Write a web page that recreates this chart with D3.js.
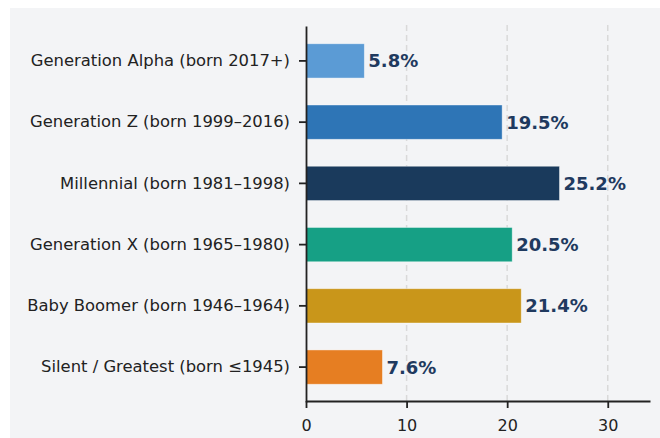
<!DOCTYPE html>
<html><head><meta charset="utf-8">
<script src="https://cdn.jsdelivr.net/npm/d3@7"></script>
<style>html,body{margin:0;padding:0;background:#fff;}svg{display:block;}</style>
</head><body>
<script>
const categories = ["Generation Alpha (born 2017+)","Generation Z (born 1999–2016)","Millennial (born 1981–1998)","Generation X (born 1965–1980)","Baby Boomer (born 1946–1964)","Silent / Greatest (born ≤1945)"];
const values = [5.8, 19.5, 25.2, 20.5, 21.4, 7.6];
const colors = ["#5b9bd5","#2e75b6","#1a3a5c","#16a085","#c9961a","#e67e22"];
const xTicks = [0, 10, 20, 30];

(function () {
const W = 660, H = 438;
const svg = d3.select("body").append("svg").attr("width", W).attr("height", H);
svg.append("rect").attr("x", 10).attr("y", 8).attr("width", W - 10).attr("height", H - 8).attr("fill", "#f3f4f6");

const pL = 306, pR = 650, pT = 25, pB = 401;
const x = d3.scaleLinear().domain([0, 34.2]).range([pL, pR]);
const y = d3.scaleBand().domain(categories).range([pT + 1, pB + 1]).paddingInner(0.44).paddingOuter(0.29);
const g = svg.append("g");

// grid
g.selectAll("line.grid").data(xTicks.filter(d => d > 0)).enter().append("line")
  .attr("x1", d => x(d)).attr("x2", d => x(d)).attr("y1", pT).attr("y2", pB)
  .attr("stroke", "#d9d9d9").attr("stroke-width", 1.5).attr("stroke-dasharray", "6,4");

// bars
g.selectAll("rect.bar").data(values).enter().append("rect")
  .attr("x", x(0)).attr("y", (d, i) => y(categories[i]))
  .attr("width", d => x(d) - x(0)).attr("height", y.bandwidth())
  .attr("fill", (d, i) => colors[i]).attr("stroke", "#fff").attr("stroke-opacity", 0.5).attr("stroke-width", 0.8);

// value labels
g.selectAll("text.val").data(values).enter().append("text")
  .attr("x", d => x(d) + 4).attr("y", (d, i) => y(categories[i]) + y.bandwidth() / 2)
  .attr("dy", "0.36em").attr("font-family", "DejaVu Sans").attr("font-weight", "bold")
  .attr("font-size", 18).attr("fill", "#1f3a5f").text(d => d.toFixed(1) + "%");

// axes
const xAxis = d3.axisBottom(x).tickValues(xTicks).tickSize(7).tickPadding(12).tickSizeOuter(0);
const gx = svg.append("g").attr("transform", `translate(0,${pB})`).call(xAxis);
gx.select(".domain").attr("stroke", "#222").attr("stroke-width", 1.8);
gx.selectAll(".tick line").attr("stroke", "#222").attr("stroke-width", 1.8);
gx.selectAll("text").attr("font-family", "DejaVu Sans").attr("font-size", 16).attr("fill", "#222");

const yAxis = d3.axisLeft(y).tickSize(7).tickPadding(9).tickSizeOuter(0);
const gy = svg.append("g").attr("transform", `translate(${pL},0)`).call(yAxis);
gy.select(".domain").attr("stroke", "#222").attr("stroke-width", 1.8);
gy.selectAll(".tick line").attr("stroke", "#222").attr("stroke-width", 1.8);
gy.selectAll("text").attr("font-family", "DejaVu Sans").attr("font-size", 16.4).attr("fill", "#222");
})();
</script>
</body></html>
